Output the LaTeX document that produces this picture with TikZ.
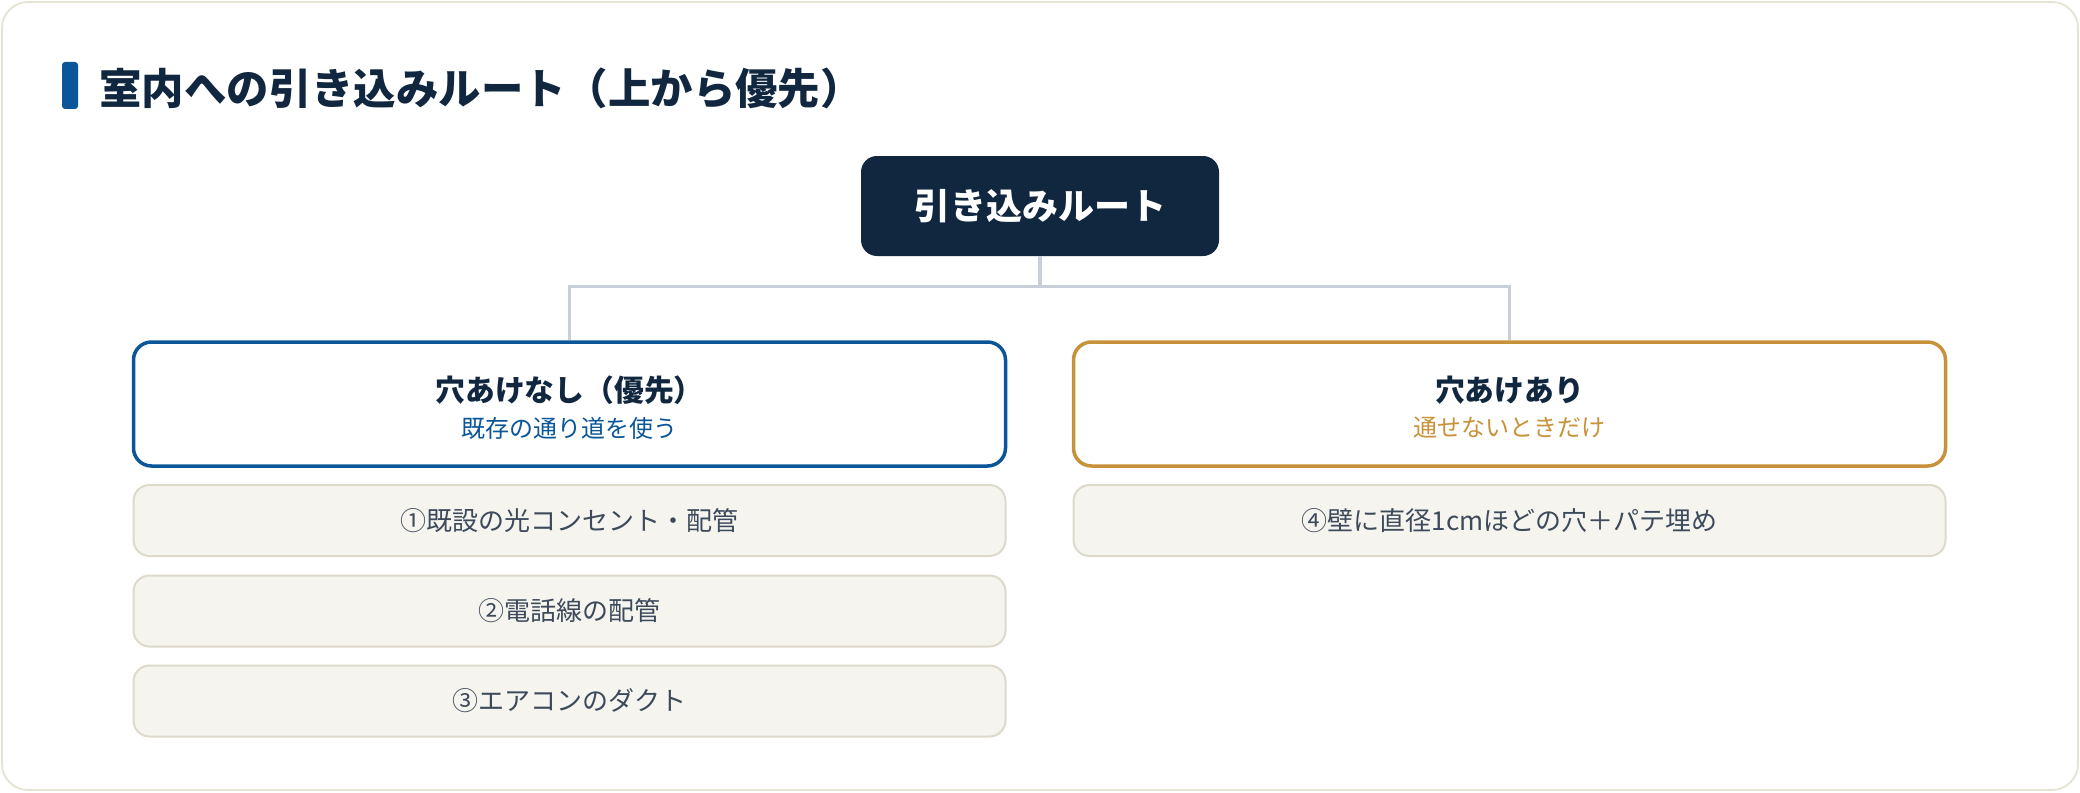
\documentclass[tikz,border=0pt]{standalone}
\usepackage{fontspec}
\setmainfont{Noto Sans CJK JP}
\usetikzlibrary{calc}
\definecolor{navy}{HTML}{10273F}
\definecolor{bluec}{HTML}{0B5699}
\definecolor{goldc}{HTML}{C8923A}
\definecolor{connc}{HTML}{C9CFD8}
\definecolor{itemfill}{HTML}{F6F4EE}
\definecolor{itemdraw}{HTML}{DDDACB}
\definecolor{itemtext}{HTML}{3D4A5B}
\definecolor{cardc}{HTML}{E5E2D6}
\tikzset{
  rootbox/.style={rectangle, rounded corners=8pt, fill=navy, text=white,
    minimum width=179pt, minimum height=50pt, inner sep=0pt,
    font=\fontsize{18}{22}\selectfont\bfseries},
  catbox/.style={rectangle, rounded corners=9pt, fill=white, line width=1.75pt,
    minimum width=436pt, minimum height=62pt, inner sep=0pt},
  cattitle/.style={inner sep=0pt, text=navy, font=\fontsize{14.9}{18}\selectfont\bfseries},
  catsub/.style={inner sep=0pt, font=\fontsize{12}{15}\selectfont},
  itembox/.style={rectangle, rounded corners=8pt, fill=itemfill, draw=itemdraw,
    line width=1pt, minimum width=436pt, minimum height=35.5pt, inner sep=0pt,
    text=itemtext, font=\fontsize{13}{16}\selectfont},
  conn/.style={draw=connc, line width=1.7pt},
}
\begin{document}
\begin{tikzpicture}[x=0.5pt,y=-0.5pt]
\useasboundingbox (0,0) rectangle (2080,792);
\draw[draw=cardc, fill=white, line width=0.9pt, rounded corners=13pt] (2,2) rectangle (2078,790);
\fill[bluec, rounded corners=1.5pt] (62,62) rectangle (78,109);
\node[anchor=west, inner sep=0pt, text=navy, font=\fontsize{21.2}{25}\selectfont\bfseries] (title) at (99,88) {室内への引き込みルート（上から優先）};

\node[rootbox] (root) at (1040,206) {引き込みルート};

\node[catbox, draw=bluec] (L) at (569.5,404) {};
\node[cattitle] (Lt) at ($(L.center)+(0,-14)$) {穴あけなし（優先）};
\node[catsub, text=bluec] (Ls) at ($(L.center)+(0,24)$) {既存の通り道を使う};

\node[catbox, draw=goldc] (R) at (1509.5,404) {};
\node[cattitle] (Rt) at ($(R.center)+(0,-14)$) {穴あけあり};
\node[catsub, text=goldc] (Rs) at ($(R.center)+(0,24)$) {通せないときだけ};

\draw[conn] (root.south) -- ++(0,30) -| (L.north);
\draw[conn] (root.south) -- ++(0,30) -| (R.north);

\node[itembox] (i1) at (569.5,520.5) {①既設の光コンセント・配管};
\node[itembox] (i2) at (569.5,611) {②電話線の配管};
\node[itembox] (i3) at (569.5,701) {③エアコンのダクト};
\node[itembox] (i4) at (1509.5,520.5) {④壁に直径1cmほどの穴＋パテ埋め};
\end{tikzpicture}
\end{document}
